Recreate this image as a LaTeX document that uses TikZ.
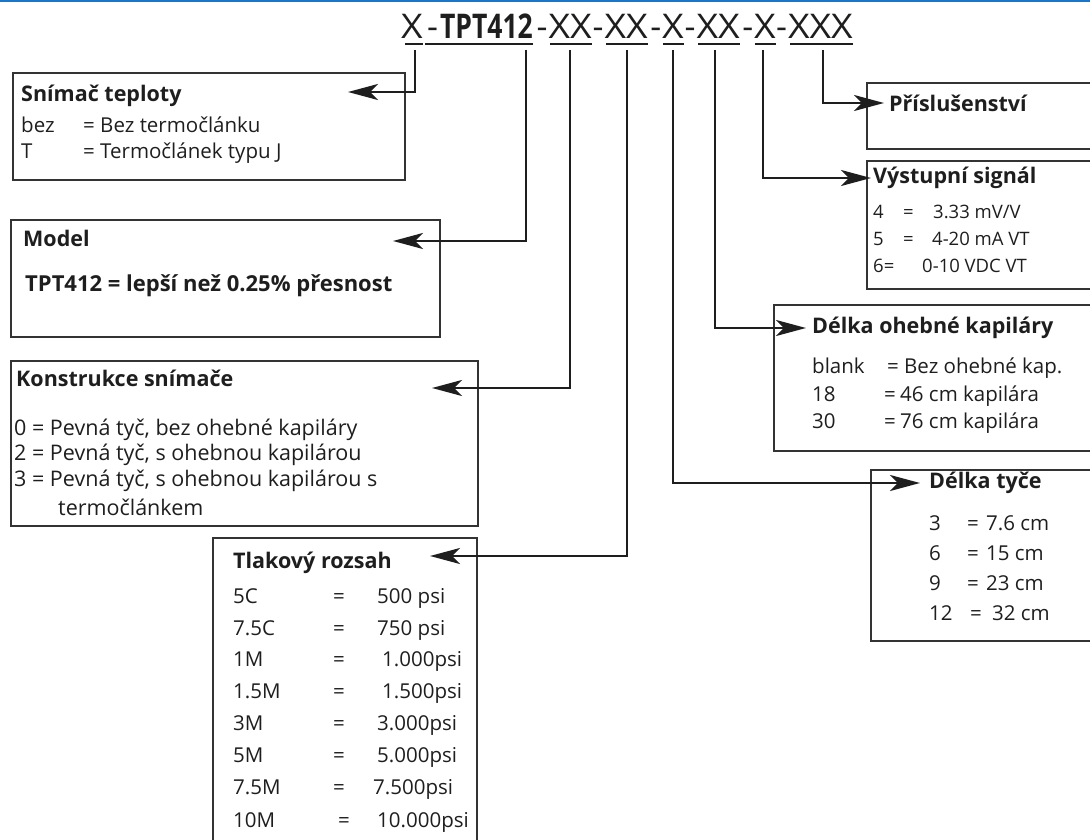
\documentclass[tikz,border=0pt]{standalone}
\usepackage{fontspec}
\usepackage{graphicx}
\setmainfont{Open Sans}
\usetikzlibrary{arrows.meta}
\definecolor{ink}{HTML}{1E1E1E}
\definecolor{boxc}{HTML}{333333}
\definecolor{topblue}{HTML}{1B75C9}
\tikzset{
  box/.style={draw=boxc, line width=1.6pt, inner sep=0pt, anchor=north west},
  txt/.style={anchor=west, inner sep=0pt, text=ink, font=\fontsize{20.5}{24}\selectfont},
  big/.style={txt, font=\fontsize{21.5}{24}\selectfont},
  hd/.style={txt, font=\fontsize{21.5}{24}\selectfont\bfseries},
  sm/.style={txt, font=\fontsize{18.5}{22}\selectfont},
  seg/.style={anchor=base east, inner sep=0pt, text=ink, text depth=4.5pt,
    font=\fontsize{34}{40}\selectfont},
  uline/.style={draw=ink, line width=1.7pt},
  conn/.style={draw=ink, line width=2.8pt, -{Stealth[length=30pt,width=16pt,inset=8pt]}}
}
\newcommand{\wideX}[1]{\scalebox{1.1}[1]{#1}}
\begin{document}
\begin{tikzpicture}[x=1pt,y=-1pt]
\useasboundingbox (0,0) rectangle (1090,840);
\clip (0,0) rectangle (1090,840);
\fill[topblue] (0,0) rectangle (1090,2.5);

% title segments (each ends where its underline ends)
\node[seg] (g1) at (423,39) {\wideX{X}};
\node[seg] (g2) at (533,39) {-\hspace{2pt}\scalebox{0.78}[1]{\bfseries TPT412}};
\node[seg] (g3) at (592,39) {-\hspace{1pt}\wideX{XX}};
\node[seg] (g4) at (648,39) {-\hspace{1pt}\wideX{XX}};
\node[seg] (g5) at (684,39) {-\hspace{1pt}\wideX{X}};
\node[seg] (g6) at (740,39) {-\hspace{1pt}\wideX{XX}};
\node[seg] (g7) at (776,39) {-\hspace{1pt}\wideX{X}};
\node[seg] (g8) at (853,39) {-\hspace{1pt}\wideX{XXX}};
\draw[uline] ([xshift=-18pt]g1.south east) -- (g1.south east);
\draw[uline] ([xshift=-108pt]g2.south east) -- (g2.south east);
\draw[uline] ([xshift=-42pt]g3.south east) -- (g3.south east);
\draw[uline] ([xshift=-42pt]g4.south east) -- (g4.south east);
\draw[uline] ([xshift=-21pt]g5.south east) -- (g5.south east);
\draw[uline] ([xshift=-42pt]g6.south east) -- (g6.south east);
\draw[uline] ([xshift=-21pt]g7.south east) -- (g7.south east);
\draw[uline] ([xshift=-63pt]g8.south east) -- (g8.south east);

% tick coordinates
\coordinate (t1) at (415,50);
\coordinate (t2) at (526,50);
\coordinate (t3) at (570,50);
\coordinate (t4) at (627,50);
\coordinate (t5) at (673,50);
\coordinate (t6) at (715,50);
\coordinate (t7) at (763,50);
\coordinate (t8) at (823,50);

% boxes
\node[box, minimum width=392pt, minimum height=107pt] (snim) at (12,72) {};
\node[box, minimum width=429pt, minimum height=117pt] (model) at (10,219) {};
\node[box, minimum width=467pt, minimum height=165pt] (konst) at (10,360) {};
\node[box, minimum width=264pt, minimum height=320pt] (tlak) at (212,537) {};
\node[box, minimum width=240pt, minimum height=66pt] (prisl) at (866,82) {};
\node[box, minimum width=240pt, minimum height=128pt] (vyst) at (866,160) {};
\node[box, minimum width=330pt, minimum height=146pt] (oheb) at (773,304) {};
\node[box, minimum width=240pt, minimum height=171pt] (tyce) at (870,469) {};

% arrow tips
\coordinate (a1) at (348,92);
\coordinate (a2) at (393,241);
\coordinate (a3) at (432,388);
\coordinate (a4) at (430,556);
\coordinate (a5) at (920,483);
\coordinate (a6) at (806,328);
\coordinate (a7) at (871,178);
\coordinate (a8) at (884,103);

\draw[conn] (t1) |- (a1);
\draw[conn] (t2) |- (a2);
\draw[conn] (t3) |- (a3);
\draw[conn] (t4) |- (a4);
\draw[conn] (t5) |- (a5);
\draw[conn] (t6) |- (a6);
\draw[conn] (t7) |- (a7);
\draw[conn] (t8) |- (a8);

% Snimac teploty
\node[hd] (s0) at (21,96) {Snímač teploty};
\node[txt] (s1) at (21,125) {\makebox[62pt][l]{bez}= Bez termočlánku};
\node[txt] (s2) at (21,153) {\makebox[62pt][l]{T}= Termočlánek typu J};

% Model
\node[hd] (m0) at (23,238) {Model};
\node[hd, font=\fontsize{22}{24}\selectfont\bfseries] (m1) at (25,286) {TPT412 = lepší než 0.25\% přesnost};

% Konstrukce
\node[hd] (k0) at (16,378) {Konstrukce snímače};
\node[big] (k1) at (14,430) {0 = Pevná tyč, bez ohebné kapiláry};
\node[big] (k2) at (14,455) {2 = Pevná tyč, s ohebnou kapilárou};
\node[big] (k3) at (14,481) {3 = Pevná tyč, s ohebnou kapilárou s};
\node[big] (k4) at (58,507) {termočlánkem};

% Tlakovy rozsah
\node[hd] (p0) at (233,563) {Tlakový rozsah};
\node[txt] (p1) at (233,598) {\makebox[100pt][l]{5C}\makebox[44pt][l]{=}500 psi};
\node[txt] (p2) at (233,630) {\makebox[100pt][l]{7.5C}\makebox[44pt][l]{=}750 psi};
\node[txt] (p3) at (233,661) {\makebox[100pt][l]{1M}\makebox[49pt][l]{=}1.000psi};
\node[txt] (p4) at (233,693) {\makebox[100pt][l]{1.5M}\makebox[49pt][l]{=}1.500psi};
\node[txt] (p5) at (233,725) {\makebox[100pt][l]{3M}\makebox[44pt][l]{=}3.000psi};
\node[txt] (p6) at (233,757) {\makebox[100pt][l]{5M}\makebox[44pt][l]{=}5.000psi};
\node[txt] (p7) at (233,789) {\makebox[100pt][l]{7.5M}\makebox[40pt][l]{=}7.500psi};
\node[txt] (p8) at (233,822) {\makebox[105pt][l]{10M}\makebox[39pt][l]{=}10.000psi};

% Prislusenstvi
\node[hd] (r0) at (889,103) {Příslušenství};

% Vystupni signal
\node[hd] (v0) at (873,178) {Výstupní signál};
\node[sm] (v1) at (873,212) {\makebox[30pt][l]{4}\makebox[30pt][l]{=}3.33 mV/V};
\node[sm] (v2) at (873,239) {\makebox[30pt][l]{5}\makebox[29pt][l]{=}4-20 mA VT};
\node[sm] (v3) at (873,266) {\makebox[49pt][l]{6=}0-10 VDC VT};

% Delka ohebne kapilary
\node[hd] (o0) at (812,328) {Délka ohebné kapiláry};
\node[txt] (o1) at (812,368) {\makebox[75pt][l]{blank}\makebox[17pt][l]{=}Bez ohebné kap.};
\node[txt] (o2) at (812,396) {\makebox[72pt][l]{18}\makebox[16pt][l]{=}46 cm kapilára};
\node[txt] (o3) at (812,423) {\makebox[72pt][l]{30}\makebox[16pt][l]{=}76 cm kapilára};

% Delka tyce
\node[hd] (y0) at (929,483) {Délka tyče};
\node[txt] (y1) at (929,523) {\makebox[38pt][l]{3}\makebox[19pt][l]{=}7.6 cm};
\node[txt] (y2) at (929,553) {\makebox[38pt][l]{6}\makebox[19pt][l]{=}15 cm};
\node[txt] (y3) at (929,583) {\makebox[38pt][l]{9}\makebox[19pt][l]{=}23 cm};
\node[txt] (y4) at (929,613) {\makebox[41pt][l]{12}\makebox[22pt][l]{=}32 cm};
\end{tikzpicture}
\end{document}
